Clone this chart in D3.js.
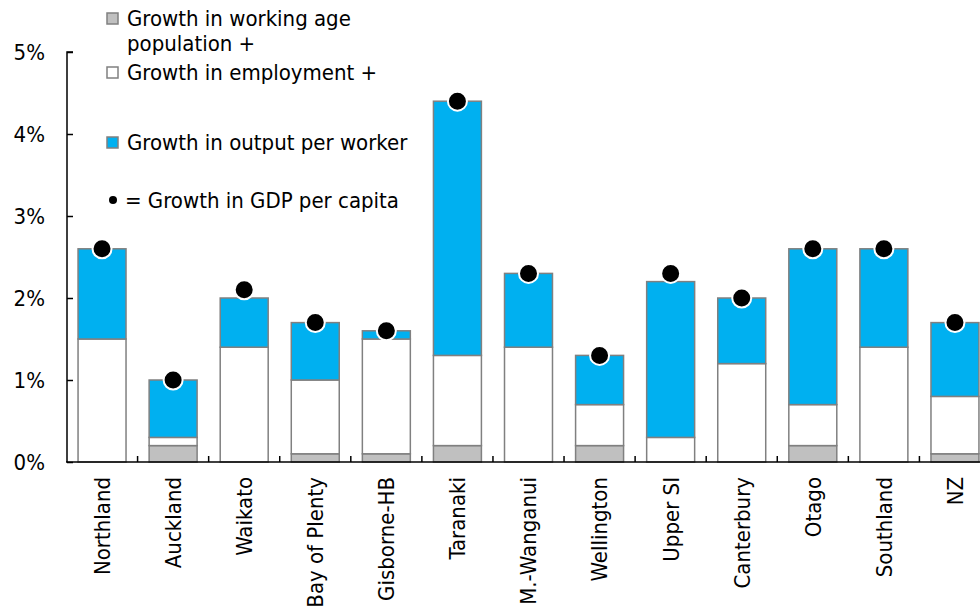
<!DOCTYPE html>
<html>
<head>
<meta charset="utf-8">
<script src="https://cdn.jsdelivr.net/npm/d3@7"></script>
<style>
  body { margin: 0; background: #fff; }
  svg { display: block; font-family: "DejaVu Sans Condensed", "DejaVu Sans", Verdana, sans-serif; font-stretch: condensed; }
</style>
</head>
<body>
<svg id="chart"></svg>
<script>
// regions, left to right
const categories = ['Northland', 'Auckland', 'Waikato', 'Bay of Plenty', 'Gisborne-HB', 'Taranaki',
    'M.-Wanganui', 'Wellington', 'Upper SI', 'Canterbury', 'Otago', 'Southland', 'NZ'];
// % per year, stacked
const workingAge = [0, 0.2, 0, 0.1, 0.1, 0.2, 0, 0.2, 0, 0, 0.2, 0, 0.1];
const employment = [1.5, 0.1, 1.4, 0.9, 1.4, 1.1, 1.4, 0.5, 0.3, 1.2, 0.5, 1.4, 0.7];
const outputPerWorker = [1.1, 0.7, 0.6, 0.7, 0.1, 3.1, 0.9, 0.6, 1.9, 0.8, 1.9, 1.2, 0.9];
const gdpPerCapita = [2.6, 1.0, 2.1, 1.7, 1.6, 4.4, 2.3, 1.3, 2.3, 2.0, 2.6, 2.6, 1.7];
const yTicks = [0, 1, 2, 3, 4, 5];

const width = 980, height = 606;
const fontSize = 22;
const colors = {working: '#c0c0c0', employment: '#ffffff', output: '#00b0f0'};

const svg = d3.select('#chart')
    .attr('width', width)
    .attr('height', height);

const x = d3.scaleBand()
    .domain(categories)
    .range([66.5, 990.5])
    .paddingInner(0.325)
    .paddingOuter(0.1625);

const y = d3.scaleLinear()
    .domain([0, 5])
    .range([462, 52]);

const rows = categories.map((c, i) => ({
    cat: c,
    working: workingAge[i],
    employment: employment[i],
    output: outputPerWorker[i]
}));

const stack = d3.stack().keys(['working', 'employment', 'output']);
const series = stack(rows);

// bars
svg.append('g')
    .selectAll('g')
    .data(series)
    .join('g')
    .attr('fill', d => colors[d.key])
    .selectAll('rect')
    .data(d => d.filter(s => s[1] - s[0] > 0))
    .join('rect')
    .attr('x', d => x(d.data.cat))
    .attr('y', d => y(d[1]))
    .attr('width', x.bandwidth())
    .attr('height', d => y(d[0]) - y(d[1]))
    .attr('stroke', '#808080')
    .attr('stroke-width', 1.5);

// dots
svg.append('g')
    .selectAll('circle')
    .data(categories)
    .join('circle')
    .attr('cx', d => x(d) + x.bandwidth() / 2)
    .attr('cy', (d, i) => y(gdpPerCapita[i]))
    .attr('r', 9.5)
    .attr('fill', '#000')
    .attr('stroke', '#fff')
    .attr('stroke-width', 2);

// y axis
const yAxis = svg.append('g')
    .attr('transform', 'translate(67,0)')
    .call(d3.axisRight(y).tickValues(yTicks).tickSize(6).tickFormat(d => d + '%'));
yAxis.attr('font-family', null);
yAxis.select('.domain').attr('d', `M6,${y(5)}H0V${y(0)}`).attr('stroke-width', 1.5);
yAxis.selectAll('.tick line').attr('stroke-width', 1.5);
yAxis.selectAll('.tick text')
    .attr('x', -22)
    .attr('text-anchor', 'end')
    .attr('font-size', fontSize)
    .attr('fill', '#000');

// x axis
const step = x.step();
const bounds = categories.slice(1).map(c => x(c) - x.paddingInner() * step / 2);
const xAxis = svg.append('g');
xAxis.append('line')
    .attr('x1', 66).attr('x2', width)
    .attr('y1', y(0)).attr('y2', y(0))
    .attr('stroke', '#000').attr('stroke-width', 1.5);
xAxis.selectAll('.xtick')
    .data(bounds)
    .join('line')
    .attr('class', 'xtick')
    .attr('x1', d => d).attr('x2', d => d)
    .attr('y1', y(0)).attr('y2', y(0) - 6)
    .attr('stroke', '#000').attr('stroke-width', 1.5);
xAxis.selectAll('text')
    .data(categories)
    .join('text')
    .attr('transform', d => `translate(${x(d) + x.bandwidth() / 2},477) rotate(-90)`)
    .attr('dy', '0.36em')
    .attr('text-anchor', 'end')
    .attr('font-size', fontSize)
    .text(d => d);

// legend
const legend = svg.append('g').attr('font-size', fontSize);
const legendItems = [
    {key: 'working', lines: ['Growth in working age', 'population +'], y: 26},
    {key: 'employment', lines: ['Growth in employment +'], y: 80},
    {key: 'output', lines: ['Growth in output per worker'], y: 150}
];
legendItems.forEach(item => {
    legend.append('rect')
        .attr('x', 107).attr('y', item.y - 13)
        .attr('width', 11).attr('height', 11)
        .attr('fill', colors[item.key])
        .attr('stroke', '#808080').attr('stroke-width', 1.5);
    legend.append('text')
        .attr('x', 127).attr('y', item.y)
        .selectAll('tspan')
        .data(item.lines)
        .join('tspan')
        .attr('x', 127)
        .attr('dy', (d, i) => i === 0 ? 0 : 25)
        .text(d => d);
});
legend.append('circle')
    .attr('cx', 113).attr('cy', 200)
    .attr('r', 4).attr('fill', '#000');
legend.append('text')
    .attr('x', 125).attr('y', 208)
    .text('= Growth in GDP per capita');
</script>
</body>
</html>
